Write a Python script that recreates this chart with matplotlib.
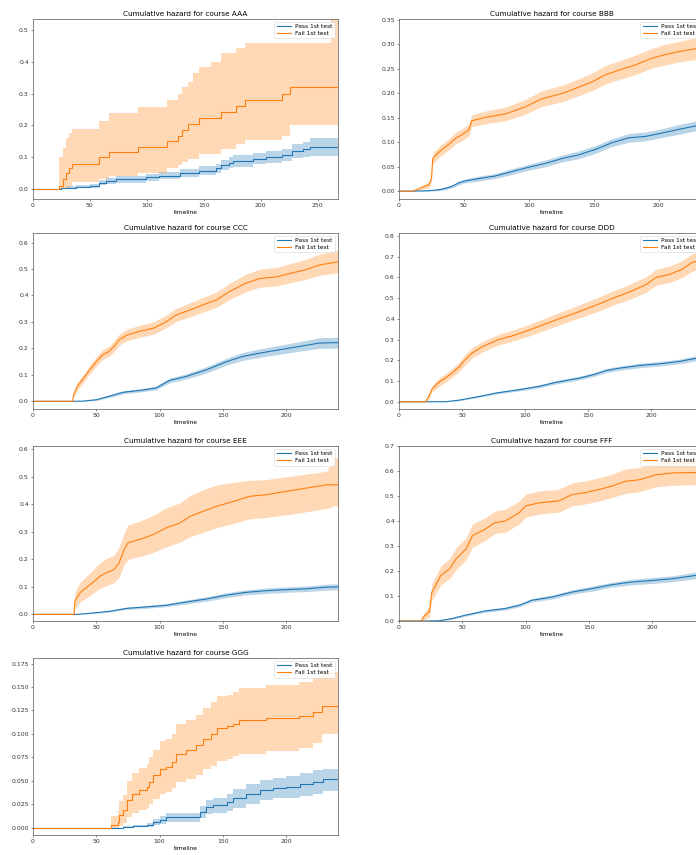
import matplotlib
matplotlib.use("Agg")
import matplotlib.pyplot as plt

# Nelson-Aalen cumulative hazard per course, split by first test outcome.
# Each series: event times, estimate, lower and upper confidence bound.

aaa_fail_t = [0, 23, 26, 29, 32, 34, 58, 67, 92, 118, 127, 131, 136, 141, 146, 156, 165, 178, 186, 219, 226, 262, 268]
aaa_fail = [0, .01, .03, .05, .065, .08, .10, .115, .133, .15, .168, .186, .205, .205, .223, .223, .242, .26, .28, .30, .322, .322, .322]
aaa_fail_lo = [0, 0, 0, 0, .01, .022, .03, .04, .05, .065, .075, .085, .095, .095, .11, .11, .125, .14, .155, .168, .20, .20, .20]
aaa_fail_hi = [0, .10, .13, .16, .175, .19, .215, .238, .258, .28, .30, .32, .338, .366, .385, .40, .43, .444, .46, .46, .46, .60, .60]
aaa_pass_t = [0, 25, 30, 38, 50, 58, 64, 73, 99, 111, 129, 146, 161, 165, 172, 176, 193, 205, 219, 228, 237, 243, 268]
aaa_pass = [0, .002, .004, .006, .008, .02, .024, .03, .036, .042, .05, .057, .065, .074, .083, .088, .095, .10, .107, .118, .125, .132, .132]
aaa_pass_lo = [0, 0, .001, .002, .003, .012, .015, .02, .025, .03, .037, .043, .05, .058, .066, .07, .077, .081, .087, .096, .101, .105, .105]
aaa_pass_hi = [0, .004, .008, .011, .014, .028, .033, .04, .047, .054, .063, .071, .08, .09, .1, .106, .113, .119, .127, .14, .149, .162, .162]

bbb_fail_t = [0, 11, 12, 18, 23, 25, 26, 30, 33, 38, 44, 49, 54, 56, 67, 82, 97, 110, 126, 136, 149, 159, 169, 182, 195, 205, 215, 228, 235]
bbb_fail = [0, 0, .0014, .008, .013, .026, .067, .078, .085, .095, .109, .116, .126, .144, .151, .158, .172, .189, .200, .210, .224, .238, .247, .258, .272, .279, .285, .291, .292]
bbb_fail_lo = [0, 0, 0, .004, .007, .018, .056, .067, .074, .084, .097, .104, .114, .132, .138, .144, .157, .173, .183, .193, .206, .219, .228, .238, .252, .258, .264, .269, .270]
bbb_fail_hi = [0, 0, .003, .012, .019, .034, .078, .089, .096, .106, .121, .128, .138, .156, .164, .172, .187, .205, .217, .227, .242, .257, .266, .278, .292, .300, .306, .313, .314]
bbb_pass_t = [0, 10, 23, 31, 36, 41, 46, 51, 62, 74, 87, 100, 113, 126, 138, 151, 164, 177, 190, 203, 215, 228, 235]
bbb_pass = [0, 0, .001, .003, .006, .01, .017, .021, .026, .031, .04, .049, .057, .067, .074, .085, .099, .109, .112, .119, .126, .133, .134]
bbb_pass_lo = [0, 0, 0, .001, .003, .007, .013, .017, .021, .026, .034, .043, .050, .060, .066, .077, .091, .100, .103, .110, .116, .123, .124]
bbb_pass_hi = [0, 0, .002, .005, .009, .013, .021, .025, .031, .036, .046, .055, .064, .074, .082, .093, .107, .118, .121, .128, .136, .143, .144]

ccc_fail_t = [0, 31.5, 32, 35, 40, 45, 50, 55, 60, 64, 68, 74, 84, 95, 105, 113, 124, 134, 145, 155, 168, 179, 192, 203, 216, 226, 241]
ccc_fail = [0, 0, .025, .056, .088, .12, .15, .176, .188, .207, .232, .25, .264, .276, .30, .326, .345, .364, .383, .414, .446, .464, .47, .483, .498, .515, .527]
ccc_fail_lo = [0, 0, .015, .041, .073, .104, .133, .158, .169, .187, .212, .229, .242, .253, .277, .302, .319, .337, .355, .384, .414, .431, .436, .448, .461, .476, .486]
ccc_fail_hi = [0, 0, .035, .071, .103, .137, .168, .195, .208, .228, .253, .272, .287, .300, .325, .351, .372, .392, .413, .445, .48, .499, .506, .520, .537, .556, .570]
ccc_pass_t = [0, 33, 40, 50, 60, 71, 84, 97, 108, 121, 137, 153, 166, 179, 195, 210, 226, 241]
ccc_pass = [0, 0, .001, .006, .019, .034, .041, .05, .079, .094, .119, .15, .17, .182, .195, .207, .22, .222]
ccc_pass_lo = [0, 0, 0, .003, .014, .028, .035, .043, .07, .084, .107, .137, .155, .166, .178, .189, .2, .201]
ccc_pass_hi = [0, 0, .002, .009, .024, .04, .047, .057, .088, .104, .131, .163, .185, .198, .212, .225, .24, .243]

ddd_fail_t = [0, 21.5, 22, 24, 26, 30, 33, 37, 42, 48, 52, 58, 66, 79, 90, 103, 116, 127, 143, 156, 170, 183, 196, 204, 215, 225, 232, 242]
ddd_fail = [0, 0, .01, .03, .06, .085, .10, .115, .138, .17, .20, .235, .265, .30, .318, .345, .375, .40, .435, .465, .50, .53, .565, .60, .615, .64, .67, .69]
ddd_fail_lo = [0, 0, 0, .018, .045, .065, .08, .095, .117, .148, .175, .21, .24, .274, .292, .317, .346, .37, .404, .432, .466, .494, .528, .562, .576, .6, .628, .648]
ddd_fail_hi = [0, 0, .02, .042, .075, .105, .12, .135, .16, .192, .225, .26, .29, .326, .345, .373, .404, .43, .467, .499, .535, .567, .603, .639, .655, .681, .712, .733]
ddd_pass_t = [0, 37, 48, 64, 77, 95, 111, 124, 143, 154, 164, 175, 191, 207, 222, 236, 242]
ddd_pass = [0, 0, .008, .026, .042, .058, .074, .093, .114, .13, .15, .162, .175, .183, .194, .21, .212]
ddd_pass_lo = [0, 0, .005, .022, .037, .052, .067, .085, .105, .121, .14, .152, .164, .172, .183, .198, .2]
ddd_pass_hi = [0, 0, .011, .03, .047, .064, .081, .101, .123, .139, .16, .172, .186, .194, .205, .222, .224]

eee_fail_t = [0, 32.5, 33, 37, 42, 47, 53, 58, 64, 68, 72, 75, 84, 95, 105, 116, 124, 134, 145, 158, 171, 184, 200, 216, 232, 238, 241]
eee_fail = [0, 0, .048, .078, .097, .115, .139, .151, .163, .187, .235, .26, .272, .29, .314, .332, .356, .374, .393, .41, .429, .435, .447, .459, .471, .471, .471]
eee_fail_lo = [0, 0, .02, .045, .06, .075, .095, .105, .115, .135, .18, .2, .21, .225, .245, .262, .282, .298, .315, .33, .347, .352, .362, .373, .385, .395, .395]
eee_fail_hi = [0, 0, .08, .115, .138, .16, .188, .203, .215, .245, .295, .325, .338, .36, .387, .405, .432, .452, .47, .48, .487, .49, .50, .51, .52, .57, .57]
eee_pass_t = [0, 35, 47, 60, 74, 89, 105, 121, 137, 153, 168, 184, 200, 216, 232, 241]
eee_pass = [0, 0, .005, .011, .022, .027, .033, .045, .056, .07, .08, .086, .09, .093, .099, .1]
eee_pass_lo = [0, 0, .003, .008, .018, .022, .028, .038, .048, .061, .071, .076, .08, .083, .088, .089]
eee_pass_hi = [0, 0, .007, .014, .026, .032, .039, .052, .064, .079, .089, .096, .1, .103, .11, .111]

fff_fail_t = [0, 17.5, 18, 20, 24, 26, 29, 33, 40, 45, 53, 58, 68, 76, 84, 95, 100, 111, 126, 137, 147, 158, 168, 179, 190, 203, 216, 234, 241]
fff_fail = [0, 0, .005, .02, .037, .116, .143, .182, .209, .248, .288, .341, .367, .394, .40, .433, .46, .473, .48, .506, .513, .526, .539, .559, .565, .585, .592, .594, .594]
fff_fail_lo = [0, 0, 0, .005, .015, .085, .11, .145, .17, .205, .245, .295, .322, .35, .355, .388, .415, .428, .435, .461, .468, .48, .493, .511, .517, .537, .543, .545, .545]
fff_fail_hi = [0, 0, .015, .035, .06, .15, .178, .22, .25, .292, .332, .388, .413, .44, .447, .48, .507, .52, .527, .553, .56, .573, .587, .608, .614, .634, .642, .645, .645]
fff_pass_t = [0, 21, 32, 42, 53, 68, 84, 95, 105, 121, 137, 153, 168, 184, 200, 216, 234, 241]
fff_pass = [0, 0, .001, .01, .024, .04, .05, .063, .083, .096, .116, .13, .145, .156, .162, .169, .182, .183]
fff_pass_lo = [0, 0, 0, .007, .02, .035, .044, .057, .076, .088, .107, .12, .135, .145, .15, .157, .169, .17]
fff_pass_hi = [0, 0, .002, .013, .028, .045, .056, .069, .09, .104, .125, .14, .155, .167, .174, .181, .195, .196]

ggg_fail_t = [0, 62, 67, 68, 71, 74, 78, 84, 90, 92, 95, 100, 105, 110, 113, 121, 129, 134, 141, 145, 153, 158, 163, 184, 210, 221, 228, 241]
ggg_fail = [0, .0025, .006, .013, .0185, .029, .036, .04, .043, .049, .056, .063, .065, .07, .079, .083, .088, .095, .1, .106, .108, .111, .115, .117, .119, .123, .13, .13]
ggg_fail_lo = [0, 0, 0, .002, .005, .011, .016, .019, .021, .025, .03, .036, .038, .042, .049, .052, .056, .062, .066, .071, .073, .076, .079, .082, .085, .09, .1, .1]
ggg_fail_hi = [0, .012, .018, .028, .035, .05, .058, .064, .068, .075, .083, .092, .094, .1, .11, .115, .12, .128, .134, .14, .142, .145, .149, .152, .155, .16, .166, .166]
ggg_pass_t = [0, 64, 71, 79, 90, 95, 100, 105, 121, 132, 137, 142, 153, 158, 168, 179, 190, 200, 211, 221, 229, 241]
ggg_pass = [0, 0, .0007, .0018, .003, .006, .008, .0107, .0114, .0167, .022, .024, .027, .031, .036, .04, .042, .0435, .046, .049, .0517, .0517]
ggg_pass_lo = [0, 0, 0, .0005, .001, .003, .004, .006, .006, .01, .014, .016, .018, .021, .025, .029, .031, .032, .034, .036, .039, .039]
ggg_pass_hi = [0, 0, .0015, .003, .005, .009, .012, .015, .016, .023, .029, .032, .036, .041, .046, .051, .053, .055, .058, .061, .063, .063]

courses = ["AAA", "BBB", "CCC", "DDD", "EEE", "FFF", "GGG"]
x_max = [268, 235, 241, 242, 241, 241, 241]
y_lims = [(-0.032, 0.536), (-0.016, 0.352), (-0.029, 0.636), (-0.035, 0.814),
          (-0.024, 0.612), (0.0, 0.70), (-0.008, 0.181)]
# the small courses have few events, so their steps are drawn as steps
stepped = [True, False, False, False, False, False, True]

pass_data = [
    (aaa_pass_t, aaa_pass, aaa_pass_lo, aaa_pass_hi),
    (bbb_pass_t, bbb_pass, bbb_pass_lo, bbb_pass_hi),
    (ccc_pass_t, ccc_pass, ccc_pass_lo, ccc_pass_hi),
    (ddd_pass_t, ddd_pass, ddd_pass_lo, ddd_pass_hi),
    (eee_pass_t, eee_pass, eee_pass_lo, eee_pass_hi),
    (fff_pass_t, fff_pass, fff_pass_lo, fff_pass_hi),
    (ggg_pass_t, ggg_pass, ggg_pass_lo, ggg_pass_hi),
]
fail_data = [
    (aaa_fail_t, aaa_fail, aaa_fail_lo, aaa_fail_hi),
    (bbb_fail_t, bbb_fail, bbb_fail_lo, bbb_fail_hi),
    (ccc_fail_t, ccc_fail, ccc_fail_lo, ccc_fail_hi),
    (ddd_fail_t, ddd_fail, ddd_fail_lo, ddd_fail_hi),
    (eee_fail_t, eee_fail, eee_fail_lo, eee_fail_hi),
    (fff_fail_t, fff_fail, fff_fail_lo, fff_fail_hi),
    (ggg_fail_t, ggg_fail, ggg_fail_lo, ggg_fail_hi),
]

W, H = 696, 855
# grid of axes in pixels: column left edges, row (top, bottom)
col_left = [33, 399]
ax_width = 305
rows = [(19, 199), (233, 409), (446, 621), (658, 835)]


def draw_series(ax, data, color, label, steps):
    t, v, lo, hi = data
    if steps:
        ax.fill_between(t, lo, hi, step="post", color=color, alpha=0.3, linewidth=0)
        ax.step(t, v, where="post", color=color, linewidth=0.8, label=label)
    else:
        ax.fill_between(t, lo, hi, color=color, alpha=0.3, linewidth=0)
        ax.plot(t, v, color=color, linewidth=0.8, label=label)


def main():
    fig = plt.figure(figsize=(W / 100, H / 100), dpi=100)
    for i, name in enumerate(courses):
        r, c = divmod(i, 2)
        top, bot = rows[r]
        ax = fig.add_axes([col_left[c] / W, 1 - bot / H, ax_width / W, (bot - top) / H])
        draw_series(ax, pass_data[i], "#1f77b4", "Pass 1st test", stepped[i])
        draw_series(ax, fail_data[i], "#ff7f0e", "Fail 1st test", stepped[i])
        ax.set_xlim(0, x_max[i])
        ax.set_ylim(*y_lims[i])
        ax.set_title("Cumulative hazard for course " + name, fontsize=5.2, pad=2.5)
        ax.set_xlabel("timeline", fontsize=4.2, labelpad=1)
        ax.tick_params(labelsize=4.4, length=1.5, width=0.4, pad=1.5, colors="#333333")
        for s in ax.spines.values():
            s.set_linewidth(0.5)
            s.set_color("#555555")
        leg = ax.legend(loc="upper right", fontsize=4.2, handlelength=2.4,
                        borderpad=0.4, labelspacing=0.3, fancybox=True)
        leg.get_frame().set_linewidth(0.4)
    fig.savefig("out.png", dpi=100)


if __name__ == "__main__":
    main()
